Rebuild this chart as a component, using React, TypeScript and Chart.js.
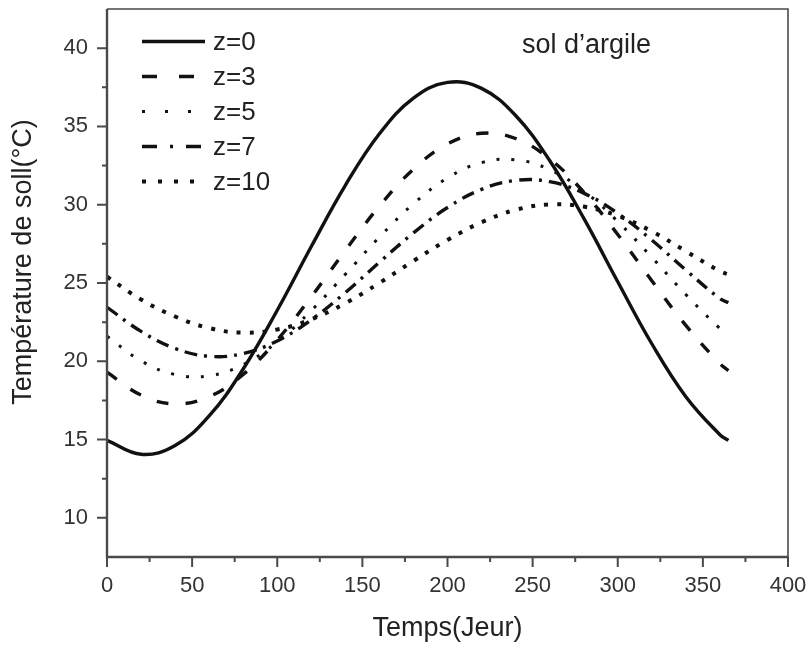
import React, { useEffect, useRef } from "react";
import { Chart, registerables } from "chart.js";

Chart.register(...registerables);

// ---- data ----
const days = [0, 20, 40, 60, 80, 100, 120, 140, 160, 180, 200, 220, 240, 260, 280, 300, 320, 340, 360, 365];
const tempZ0 = [14.95, 14.06, 14.62, 16.51, 19.51, 23.26, 27.33, 31.24, 34.53, 36.81, 37.81, 37.43, 35.7, 32.82, 29.14, 25.08, 21.12, 17.74, 15.31, 14.95];
const tempZ3 = [19.3, 17.84, 17.28, 17.74, 19.16, 21.37, 24.12, 27.08, 29.91, 32.27, 33.88, 34.56, 34.23, 32.93, 30.8, 28.1, 25.15, 22.29, 19.85, 19.4];
const tempZ5 = [21.6, 20.03, 19.15, 19.07, 19.79, 21.24, 23.24, 25.56, 27.93, 30.06, 31.71, 32.69, 32.87, 32.24, 30.88, 28.93, 26.64, 24.26, 22.09, 21.7];
const tempZ7 = [23.45, 21.91, 20.82, 20.32, 20.49, 21.3, 22.65, 24.39, 26.32, 28.2, 29.82, 30.98, 31.55, 31.47, 30.74, 29.45, 27.74, 25.83, 24.0, 23.75];
const tempZ10 = [25.4, 23.95, 22.86, 22.12, 21.83, 22.03, 22.68, 23.71, 25.0, 26.41, 27.75, 28.88, 29.67, 30.02, 29.88, 29.29, 28.3, 27.03, 25.75, 25.55];

const seriesLabels = ["z=0", "z=3", "z=5", "z=7", "z=10"];
const xMajorTicks = [0, 50, 100, 150, 200, 250, 300, 350, 400];
const xMinorTicks = [25, 75, 125, 175, 225, 275, 325, 375];
const yMajorTicks = [10, 15, 20, 25, 30, 35, 40];
const yMinorTicks = [12.5, 17.5, 22.5, 27.5, 32.5, 37.5];

const xTitle = "Temps(Jeur)";
const yTitle = "Température de soll(°C)";
const annotation = "sol d’argile";

// ---- styles ----
const FONT = "'Liberation Sans', Arial, Helvetica, sans-serif";
const INK = "#111";
const lineStyles = [
  { width: 3.4, dash: [] as number[], legendDash: [] as number[] },
  { width: 3.4, dash: [12, 17], legendDash: [15, 22] },
  { width: 3, dash: [3, 12], legendDash: [3, 20] },
  { width: 3.4, dash: [13, 7, 3, 7], legendDash: [15, 13, 3, 13] },
  { width: 4, dash: [4, 9], legendDash: [4, 12] },
];

const decorPlugin = {
  id: "decor",
  afterDraw(chart: any) {
    const { ctx, chartArea: a, scales } = chart;
    const xs = scales.x;
    const ys = scales.y;
    ctx.save();
    // frame
    ctx.strokeStyle = "#4a4a4a";
    ctx.lineWidth = 1.6;
    ctx.beginPath();
    ctx.moveTo(a.left, a.top);
    ctx.lineTo(a.right, a.top);
    ctx.lineTo(a.right, a.bottom);
    ctx.stroke();
    ctx.lineWidth = 2.4;
    ctx.beginPath();
    ctx.moveTo(a.left, a.top);
    ctx.lineTo(a.left, a.bottom);
    ctx.lineTo(a.right, a.bottom);
    ctx.stroke();
    // ticks
    ctx.lineWidth = 2;
    ctx.beginPath();
    xMajorTicks.forEach((v) => {
      const p = xs.getPixelForValue(v);
      ctx.moveTo(p, a.bottom);
      ctx.lineTo(p, a.bottom + 10);
    });
    xMinorTicks.forEach((v) => {
      const p = xs.getPixelForValue(v);
      ctx.moveTo(p, a.bottom);
      ctx.lineTo(p, a.bottom + 5);
    });
    yMajorTicks.forEach((v) => {
      const p = ys.getPixelForValue(v);
      ctx.moveTo(a.left, p);
      ctx.lineTo(a.left - 10, p);
    });
    yMinorTicks.forEach((v) => {
      const p = ys.getPixelForValue(v);
      ctx.moveTo(a.left, p);
      ctx.lineTo(a.left - 5, p);
    });
    ctx.stroke();

    // axis titles
    ctx.fillStyle = "#222";
    ctx.font = `27px ${FONT}`;
    ctx.textAlign = "center";
    ctx.textBaseline = "alphabetic";
    ctx.fillText(xTitle, (a.left + a.right) / 2, 636);
    ctx.save();
    ctx.translate(31, 262);
    ctx.rotate(-Math.PI / 2);
    ctx.fillText(yTitle, 0, 0);
    ctx.restore();

    // annotation
    ctx.textAlign = "left";
    ctx.font = `27px ${FONT}`;
    ctx.fillText(annotation, 522, 53);

    // legend
    ctx.font = `26px ${FONT}`;
    ctx.textBaseline = "middle";
    seriesLabels.forEach((lab, i) => {
      const yy = 41.5 + i * 35;
      const st = lineStyles[i];
      ctx.save();
      ctx.strokeStyle = INK;
      ctx.lineWidth = st.width;
      ctx.setLineDash(st.legendDash);
      ctx.beginPath();
      ctx.moveTo(142, yy);
      ctx.lineTo(205, yy);
      ctx.stroke();
      ctx.restore();
      ctx.fillStyle = "#222";
      ctx.fillText(lab, 213, yy + 1.5);
    });
    ctx.restore();
  },
};

export default function App() {
  const ref = useRef<HTMLCanvasElement | null>(null);

  useEffect(() => {
    document.body.style.margin = "0";
    const canvas = ref.current;
    if (!canvas) return;
    const allSeries = [tempZ0, tempZ3, tempZ5, tempZ7, tempZ10];
    const chart = new Chart(canvas, {
      type: "line",
      data: {
        datasets: allSeries.map((vals, i) => ({
          label: seriesLabels[i],
          data: days.map((d, k) => ({ x: d, y: vals[k] })),
          borderColor: INK,
          borderWidth: lineStyles[i].width,
          borderDash: lineStyles[i].dash,
          borderCapStyle: "butt" as const,
          pointRadius: 0,
          fill: false,
          tension: 0.4,
        })),
      },
      options: {
        responsive: false,
        animation: false,
        layout: { padding: { top: 9, right: 20, left: 0, bottom: 0 } },
        plugins: {
          legend: { display: false },
          tooltip: { enabled: false },
          title: { display: false },
        },
        scales: {
          x: {
            type: "linear",
            min: 0,
            max: 400,
            grid: { display: false, drawTicks: false },
            border: { display: false },
            afterBuildTicks: (s: any) => {
              s.ticks = xMajorTicks.map((v) => ({ value: v }));
            },
            afterFit: (s: any) => {
              s.height = 91;
              s.paddingLeft = 0;
              s.paddingRight = 0;
              s.paddingTop = 0;
              s.paddingBottom = 0;
            },
            ticks: {
              autoSkip: false,
              maxRotation: 0,
              padding: 16,
              color: "#333",
              font: { size: 22, family: FONT },
            },
          },
          y: {
            type: "linear",
            min: 7.5,
            max: 42.5,
            grid: { display: false, drawTicks: false },
            border: { display: false },
            afterBuildTicks: (s: any) => {
              s.ticks = yMajorTicks.map((v) => ({ value: v }));
            },
            afterFit: (s: any) => {
              s.width = 107;
              s.paddingLeft = 0;
              s.paddingRight = 0;
              s.paddingTop = 0;
              s.paddingBottom = 0;
            },
            ticks: {
              autoSkip: false,
              padding: 19,
              color: "#333",
              font: { size: 22, family: FONT },
            },
          },
        },
      },
      plugins: [decorPlugin],
    });
    return () => chart.destroy();
  }, []);

  return (
    <div style={{ width: 808, height: 648, background: "#fff" }}>
      <canvas ref={ref} width={808} height={648} style={{ display: "block" }} />
    </div>
  );
}
